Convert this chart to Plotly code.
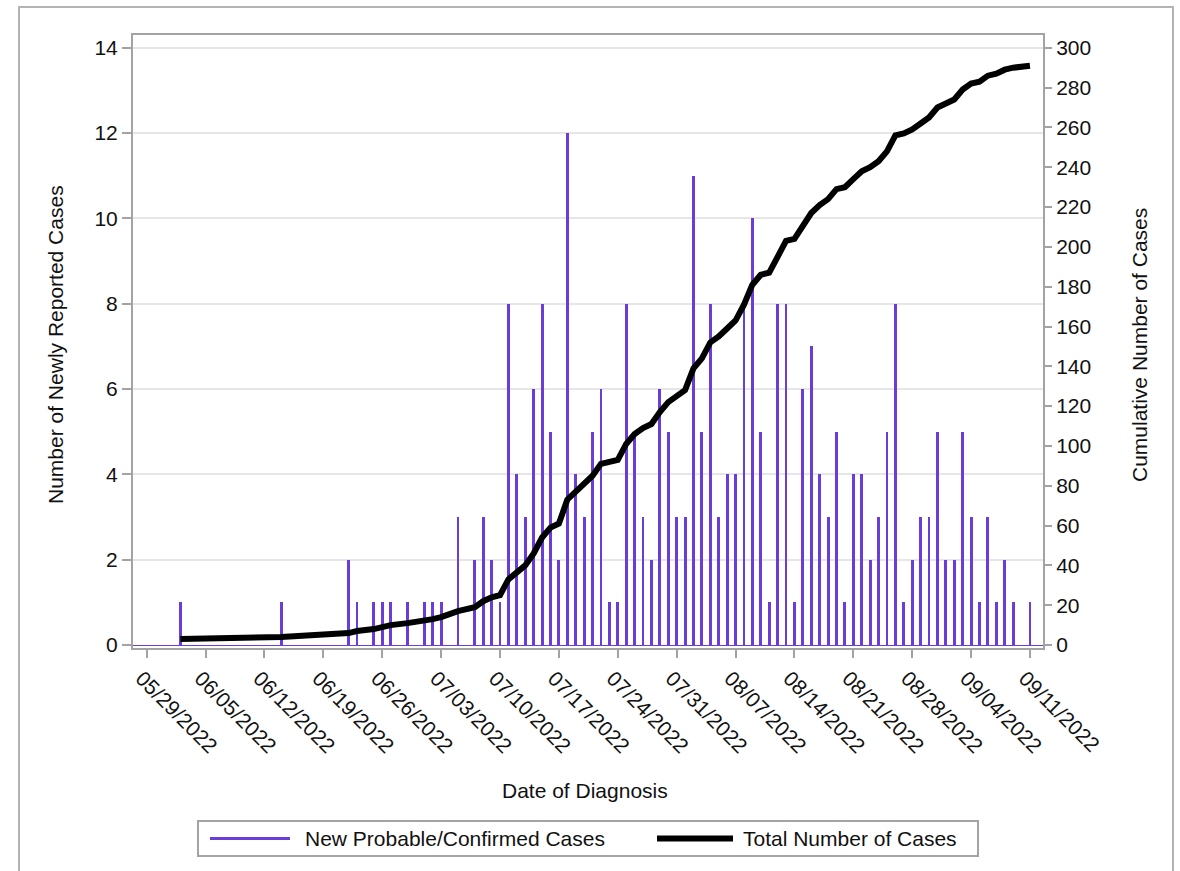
import pandas as pd
import plotly.graph_objects as go

# Daily counts of new probable/confirmed cases (only days with cases listed)
case_dates = [
    "2022-06-02", "2022-06-14", "2022-06-22", "2022-06-23", "2022-06-25", "2022-06-26",
    "2022-06-27", "2022-06-29", "2022-07-01", "2022-07-02", "2022-07-03", "2022-07-05",
    "2022-07-07", "2022-07-08", "2022-07-09", "2022-07-10", "2022-07-11", "2022-07-12",
    "2022-07-13", "2022-07-14", "2022-07-15", "2022-07-16", "2022-07-17", "2022-07-18",
    "2022-07-19", "2022-07-20", "2022-07-21", "2022-07-22", "2022-07-23", "2022-07-24",
    "2022-07-25", "2022-07-26", "2022-07-27", "2022-07-28", "2022-07-29", "2022-07-30",
    "2022-07-31", "2022-08-01", "2022-08-02", "2022-08-03", "2022-08-04", "2022-08-05",
    "2022-08-06", "2022-08-07", "2022-08-08", "2022-08-09", "2022-08-10", "2022-08-11",
    "2022-08-12", "2022-08-13", "2022-08-14", "2022-08-15", "2022-08-16", "2022-08-17",
    "2022-08-18", "2022-08-19", "2022-08-20", "2022-08-21", "2022-08-22", "2022-08-23",
    "2022-08-24", "2022-08-25", "2022-08-26", "2022-08-27", "2022-08-28", "2022-08-29",
    "2022-08-30", "2022-08-31", "2022-09-01", "2022-09-02", "2022-09-03", "2022-09-04",
    "2022-09-05", "2022-09-06", "2022-09-07", "2022-09-08", "2022-09-09", "2022-09-11",
]
new_cases = [
    1, 1, 2, 1, 1, 1,
    1, 1, 1, 1, 1, 3,
    2, 3, 2, 1, 8, 4,
    3, 6, 8, 5, 2, 12,
    4, 3, 5, 6, 1, 1,
    8, 5, 3, 2, 6, 5,
    3, 3, 11, 5, 8, 3,
    4, 4, 8, 10, 5, 1,
    8, 8, 1, 6, 7, 4,
    3, 5, 1, 4, 4, 2,
    3, 5, 8, 1, 2, 3,
    3, 5, 2, 2, 5, 3,
    1, 3, 1, 2, 1, 1,
]
# Cases counted in the running total before the first date shown
prior_cases = 2

# Weekly x-axis ticks
tick_dates = [
    "2022-05-29", "2022-06-05", "2022-06-12", "2022-06-19", "2022-06-26", "2022-07-03",
    "2022-07-10", "2022-07-17", "2022-07-24", "2022-07-31", "2022-08-07", "2022-08-14",
    "2022-08-21", "2022-08-28", "2022-09-04", "2022-09-11",
]
tick_labels = [pd.Timestamp(d).strftime("%m/%d/%Y") for d in tick_dates]

# Running total at each reporting date
daily = pd.Series(new_cases, index=pd.to_datetime(case_dates))
cumulative = daily.cumsum() + prior_cases

PURPLE = "#6a3dd8"
GRID = "#e6e6e6"
FRAME = "#a3a3a3"
FONT = "Liberation Sans, Arial, sans-serif"
FS = 21
DAY_MS = 86400000

# Plot-area geometry in pixels (used to place the legend box and titles)
W_PX, H_PX = 1180, 871
L, R, T, B = 133, 1043, 35, 648


def xp(px):
    return (px - L) / (R - L)


def yp(py):
    return (B - py) / (B - T)


fig = go.Figure()

fig.add_trace(go.Bar(
    x=pd.to_datetime(case_dates),
    y=new_cases,
    width=0.34 * DAY_MS,
    marker=dict(color=PURPLE, line=dict(width=0)),
    name="New Probable/Confirmed Cases",
    showlegend=False,
))

fig.add_trace(go.Scatter(
    x=cumulative.index,
    y=cumulative.values,
    mode="lines",
    line=dict(color="black", width=6),
    yaxis="y2",
    name="Total Number of Cases",
    showlegend=False,
))

y_lo, y_hi = -0.07, 14.3
x_lo = pd.Timestamp("2022-05-29") - pd.Timedelta(days=1.63)
x_hi = pd.Timestamp("2022-09-11") + pd.Timedelta(days=1.55)

fig.update_layout(
    width=W_PX,
    height=H_PX,
    margin=dict(l=L, r=W_PX - R, t=T, b=H_PX - B, autoexpand=False),
    paper_bgcolor="white",
    plot_bgcolor="white",
    font=dict(family=FONT, size=FS, color="#111111"),
    bargap=0,
    xaxis=dict(
        type="date",
        range=[x_lo, x_hi],
        tickmode="array",
        tickvals=pd.to_datetime(tick_dates),
        ticktext=tick_labels,
        tickangle=45,
        ticks="outside",
        ticklen=8,
        tickwidth=2,
        tickcolor=FRAME,
        ticklabelshift=-5,
        showgrid=False,
        showline=True,
        linecolor=FRAME,
        linewidth=2,
        mirror=True,
        tickfont=dict(size=FS),
    ),
    yaxis=dict(
        range=[y_lo, y_hi],
        tickvals=[0, 2, 4, 6, 8, 10, 12, 14],
        ticks="outside",
        ticklen=9,
        tickwidth=2,
        tickcolor=FRAME,
        showgrid=True,
        gridcolor=GRID,
        gridwidth=2,
        zeroline=True,
        zerolinecolor=PURPLE,
        zerolinewidth=1,
        showline=True,
        linecolor=FRAME,
        linewidth=2,
        mirror=True,
        tickfont=dict(size=FS),
    ),
    yaxis2=dict(
        overlaying="y",
        side="right",
        range=[y_lo * 300 / 14, y_hi * 300 / 14],
        tickvals=list(range(0, 301, 20)),
        ticks="outside",
        ticklen=8,
        tickwidth=2,
        tickcolor=FRAME,
        showgrid=False,
        zeroline=False,
        showline=False,
        tickfont=dict(size=FS),
    ),
    showlegend=False,
)

# Axis titles
title_kw = dict(xref="paper", yref="paper", showarrow=False,
                xanchor="center", yanchor="middle", font=dict(size=FS))
fig.add_annotation(x=xp(55), y=yp(345), text="Number of Newly Reported Cases",
                   textangle=-90, **title_kw)
fig.add_annotation(x=xp(1139), y=yp(345), text="Cumulative Number of Cases",
                   textangle=-90, **title_kw)
fig.add_annotation(x=xp(585), y=yp(791), text="Date of Diagnosis", **title_kw)

# Outer figure border
fig.add_shape(type="rect", xref="paper", yref="paper",
              x0=xp(19), x1=xp(1173), y0=yp(900), y1=yp(7),
              line=dict(color="#b3b3b3", width=2), fillcolor="rgba(0,0,0,0)",
              layer="below")

# Legend box with line samples
legend_y = 838.5
fig.add_shape(type="rect", xref="paper", yref="paper",
              x0=xp(198), x1=xp(978), y0=yp(856), y1=yp(821),
              line=dict(color=FRAME, width=2), fillcolor="white")
fig.add_shape(type="line", xref="paper", yref="paper",
              x0=xp(210), x1=xp(290), y0=yp(legend_y), y1=yp(legend_y),
              line=dict(color=PURPLE, width=3))
fig.add_annotation(x=xp(303), y=yp(legend_y), xref="paper", yref="paper",
                   text="New Probable/Confirmed Cases", showarrow=False,
                   xanchor="left", yanchor="middle", font=dict(size=FS))
fig.add_shape(type="line", xref="paper", yref="paper",
              x0=xp(657), x1=xp(733), y0=yp(legend_y), y1=yp(legend_y),
              line=dict(color="black", width=6))
fig.add_annotation(x=xp(741), y=yp(legend_y), xref="paper", yref="paper",
                   text="Total Number of Cases", showarrow=False,
                   xanchor="left", yanchor="middle", font=dict(size=FS))

fig.write_html("out.html")
